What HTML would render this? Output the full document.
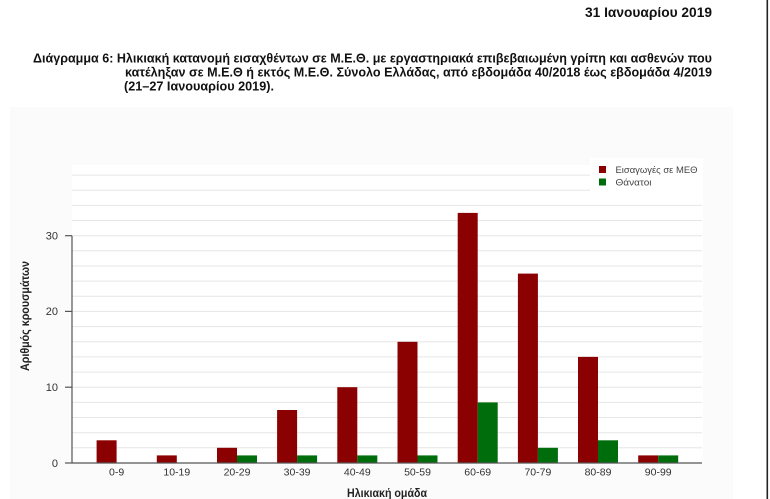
<!DOCTYPE html>
<html>
<head>
<meta charset="utf-8">
<style>
  html,body{margin:0;padding:0;background:#ffffff;}
  body{width:770px;height:499px;overflow:hidden;position:relative;}
  svg{position:absolute;left:0;top:0;}
</style>
</head>
<body>
<svg width="770" height="499" viewBox="0 0 770 499" xmlns="http://www.w3.org/2000/svg">
  <rect x="0" y="0" width="770" height="499" fill="#ffffff"/>
  <!-- subtle panel -->
  <rect x="10" y="107" width="723" height="392" fill="#fbfbfb"/>
  <!-- right border line -->
  <rect x="766.5" y="0" width="1.6" height="499" fill="#222"/>

  <!-- Header texts -->
  <text x="585" y="17" font-family="Liberation Sans, sans-serif" font-weight="bold" font-size="14" fill="#111" textLength="127" lengthAdjust="spacingAndGlyphs">31 Ιανουαρίου 2019</text>
  <text x="33" y="62.5" font-family="Liberation Sans, sans-serif" font-weight="bold" font-size="13" fill="#111" textLength="679" lengthAdjust="spacingAndGlyphs">Διάγραμμα 6: Ηλικιακή κατανομή εισαχθέντων σε Μ.Ε.Θ. με εργαστηριακά επιβεβαιωμένη γρίπη και ασθενών που</text>
  <text x="125" y="76.5" font-family="Liberation Sans, sans-serif" font-weight="bold" font-size="13" fill="#111" textLength="587" lengthAdjust="spacingAndGlyphs">κατέληξαν σε Μ.Ε.Θ ή εκτός Μ.Ε.Θ. Σύνολο Ελλάδας, από εβδομάδα 40/2018 έως εβδομάδα 4/2019</text>
  <text x="124" y="90.5" font-family="Liberation Sans, sans-serif" font-weight="bold" font-size="13" fill="#111" textLength="150" lengthAdjust="spacingAndGlyphs">(21–27 Ιανουαρίου 2019).</text>

  <!-- plot area background -->
  <rect x="72" y="165" width="631" height="298" fill="#ffffff"/>

  <!-- gridlines every 2 units -->
  <g stroke="#e6e6e6" stroke-width="1">
    <line x1="72" x2="702" y1="447.8" y2="447.8"/>
    <line x1="72" x2="702" y1="432.7" y2="432.7"/>
    <line x1="72" x2="702" y1="417.5" y2="417.5"/>
    <line x1="72" x2="702" y1="402.4" y2="402.4"/>
    <line x1="72" x2="702" y1="387.2" y2="387.2"/>
    <line x1="72" x2="702" y1="372.1" y2="372.1"/>
    <line x1="72" x2="702" y1="356.9" y2="356.9"/>
    <line x1="72" x2="702" y1="341.8" y2="341.8"/>
    <line x1="72" x2="702" y1="326.6" y2="326.6"/>
    <line x1="72" x2="702" y1="311.4" y2="311.4"/>
    <line x1="72" x2="702" y1="296.3" y2="296.3"/>
    <line x1="72" x2="702" y1="281.1" y2="281.1"/>
    <line x1="72" x2="702" y1="266.0" y2="266.0"/>
    <line x1="72" x2="702" y1="250.8" y2="250.8"/>
    <line x1="72" x2="702" y1="235.7" y2="235.7"/>
    <line x1="72" x2="702" y1="220.5" y2="220.5"/>
    <line x1="72" x2="702" y1="205.4" y2="205.4"/>
    <line x1="72" x2="702" y1="190.2" y2="190.2"/>
    <line x1="72" x2="702" y1="175.1" y2="175.1"/>
  </g>

  <!-- legend box (covers gridlines) -->
  <rect x="590" y="158" width="113" height="39" fill="#ffffff"/>
  <rect x="599" y="166" width="7" height="7" fill="#8b0000"/>
  <rect x="599" y="178.5" width="7" height="7" fill="#006d0c"/>
  <text x="615.5" y="172.8" font-family="Liberation Sans, sans-serif" font-size="9.5" fill="#444" textLength="82" lengthAdjust="spacingAndGlyphs">Εισαγωγές σε ΜΕΘ</text>
  <text x="615.5" y="185.3" font-family="Liberation Sans, sans-serif" font-size="9.5" fill="#444" textLength="36" lengthAdjust="spacingAndGlyphs">Θάνατοι</text>

  <!-- bars: red (admissions) -->
  <g fill="#8b0000">
    <rect x="96.6" y="440.3" width="20" height="22.7"/>
    <rect x="156.8" y="455.4" width="20" height="7.6"/>
    <rect x="217.0" y="447.8" width="20" height="15.2"/>
    <rect x="277.1" y="410.0" width="20" height="53.0"/>
    <rect x="337.3" y="387.2" width="20" height="75.8"/>
    <rect x="397.5" y="341.8" width="20" height="121.2"/>
    <rect x="457.7" y="212.9" width="20" height="250.1"/>
    <rect x="517.9" y="273.6" width="20" height="189.4"/>
    <rect x="578.0" y="356.9" width="20" height="106.1"/>
    <rect x="638.2" y="455.4" width="20" height="7.6"/>
  </g>
  <!-- bars: green (deaths) -->
  <g fill="#006d0c">
    <rect x="237.0" y="455.4" width="20" height="7.6"/>
    <rect x="297.1" y="455.4" width="20" height="7.6"/>
    <rect x="357.3" y="455.4" width="20" height="7.6"/>
    <rect x="417.5" y="455.4" width="20" height="7.6"/>
    <rect x="477.7" y="402.4" width="20" height="60.6"/>
    <rect x="537.9" y="447.8" width="20" height="15.2"/>
    <rect x="598.0" y="440.3" width="20" height="22.7"/>
    <rect x="658.2" y="455.4" width="20" height="7.6"/>
  </g>

  <!-- axes -->
  <line x1="72" x2="72" y1="235.7" y2="463" stroke="#555" stroke-width="1.2"/>
  <line x1="72" x2="702" y1="463" y2="463" stroke="#555" stroke-width="1.2"/>
  <g stroke="#555" stroke-width="1.2">
    <line x1="65" x2="72" y1="463" y2="463"/>
    <line x1="65" x2="72" y1="387.2" y2="387.2"/>
    <line x1="65" x2="72" y1="311.4" y2="311.4"/>
    <line x1="65" x2="72" y1="235.7" y2="235.7"/>
  </g>

  <!-- y tick labels -->
  <g font-family="Liberation Sans, sans-serif" font-size="11" fill="#333" text-anchor="end">
    <text x="58" y="467">0</text>
    <text x="58" y="391">10</text>
    <text x="58" y="315">20</text>
    <text x="58" y="239.5">30</text>
  </g>

  <!-- x tick labels -->
  <g font-family="Liberation Sans, sans-serif" font-size="10.5" fill="#333" text-anchor="middle">
    <text x="116.6" y="475.5">0-9</text>
    <text x="176.8" y="475.5">10-19</text>
    <text x="237.0" y="475.5">20-29</text>
    <text x="297.1" y="475.5">30-39</text>
    <text x="357.3" y="475.5">40-49</text>
    <text x="417.5" y="475.5">50-59</text>
    <text x="477.7" y="475.5">60-69</text>
    <text x="537.9" y="475.5">70-79</text>
    <text x="598.0" y="475.5">80-89</text>
    <text x="658.2" y="475.5">90-99</text>
  </g>

  <!-- axis titles -->
  <text x="387" y="497" font-family="Liberation Sans, sans-serif" font-weight="bold" font-size="11.5" fill="#222" text-anchor="middle" textLength="80" lengthAdjust="spacingAndGlyphs">Ηλικιακή ομάδα</text>
  <text transform="translate(29,316) rotate(-90)" x="0" y="0" font-family="Liberation Sans, sans-serif" font-weight="bold" font-size="11.5" fill="#222" text-anchor="middle" textLength="110" lengthAdjust="spacingAndGlyphs">Αριθμός κρουσμάτων</text>
</svg>
</body>
</html>
